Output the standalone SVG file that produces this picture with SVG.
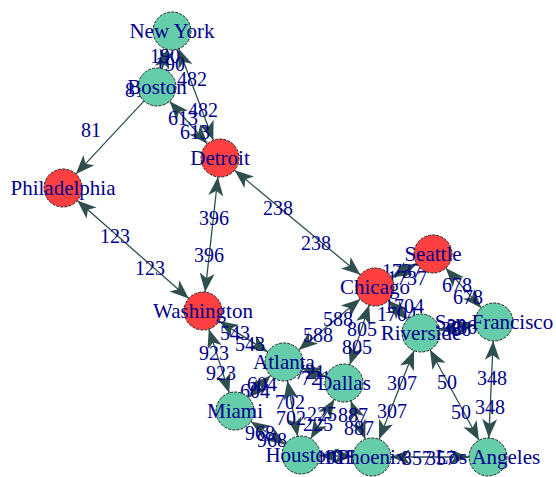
<svg xmlns="http://www.w3.org/2000/svg" width="556" height="477" viewBox="0 0 556 477">
  <style>
    .edge { stroke: #2F4F4F; stroke-width: 1.3; fill: none; }
    .both { marker-start: url(#arrow); marker-end: url(#arrow); }
    .one { marker-end: url(#arrow); }
    .elab { font-family: "Liberation Serif", "Times New Roman", serif; font-size: 20px; fill: #00008B; text-anchor: middle; }
    .vlab { font-family: "Liberation Serif", "Times New Roman", serif; font-size: 21px; fill: #00008B; text-anchor: middle; }
    .red { fill: #FF4040; }
    .green { fill: #66CDAA; }
    circle { stroke: #222; stroke-width: 1; stroke-dasharray: 3 1.2; }
  </style>
  <defs>
    <marker id="arrow" viewBox="-21 -9 22 18" refX="0" refY="0" markerWidth="22" markerHeight="18" markerUnits="userSpaceOnUse" orient="auto-start-reverse">
      <path d="M0,0 L-19,-7.5 L-14,0 L-19,7.5 Z" fill="#2F4F4F"/>
    </marker>
  </defs>
  <rect width="556" height="477" fill="#ffffff"/>

  <!-- connectors with their weight labels -->
  <g id="connectors">
    <line class="edge both" x1="167.1" y1="49.4" x2="161.9" y2="68.6"/>
    <line class="edge both" x1="178.7" y1="48.8" x2="213.3" y2="140.2"/>
    <line class="edge both" x1="169.6" y1="101.2" x2="207.4" y2="143.8"/>
    <line class="edge one" x1="144.1" y1="100.9" x2="75.9" y2="174.1"/>
    <line class="edge both" x1="77.3" y1="200.5" x2="188.7" y2="298.5"/>
    <line class="edge both" x1="217.9" y1="176.9" x2="205.1" y2="292.1"/>
    <line class="edge both" x1="234.6" y1="170.2" x2="360.4" y2="274.8"/>
    <line class="edge both" x1="391.5" y1="277.6" x2="416.5" y2="263.4"/>
    <line class="edge both" x1="388.4" y1="300.4" x2="407.6" y2="319.6"/>
    <line class="edge both" x1="360.3" y1="299.1" x2="298.7" y2="349.9"/>
    <line class="edge both" x1="369.2" y1="305.1" x2="349.8" y2="364.9"/>
    <line class="edge both" x1="219.1" y1="321.1" x2="267.9" y2="351.9"/>
    <line class="edge both" x1="208.8" y1="329.1" x2="229.2" y2="392.9"/>
    <line class="edge both" x1="270.6" y1="375.4" x2="248.4" y2="397.6"/>
    <line class="edge both" x1="301.9" y1="368.3" x2="326.1" y2="376.7"/>
    <line class="edge both" x1="287.4" y1="380.7" x2="297.6" y2="436.3"/>
    <line class="edge both" x1="250.8" y1="421.5" x2="285.2" y2="444.5"/>
    <line class="edge both" x1="334.3" y1="399.3" x2="310.7" y2="438.7"/>
    <line class="edge both" x1="350.7" y1="400.8" x2="365.3" y2="439.2"/>
    <line class="edge both" x1="414.0" y1="350.7" x2="379.0" y2="439.3"/>
    <line class="edge both" x1="430.0" y1="349.7" x2="479.0" y2="440.3"/>
    <line class="edge both" x1="493.2" y1="341.0" x2="488.8" y2="438.0"/>
    <line class="edge both" x1="445.7" y1="268.1" x2="481.3" y2="307.9"/>
    <line class="edge both" x1="439.8" y1="330.2" x2="475.2" y2="324.8"/>
    <line class="edge both" x1="320.0" y1="455.5" x2="353.0" y2="456.5"/>
    <line class="edge both" x1="391" y1="457" x2="469" y2="457"/>

    <g id="edge-labels">
      <text class="elab" x="165" y="63">190</text>
      <text class="elab" x="170" y="71">190</text>
      <text class="elab" x="192" y="86">482</text>
      <text class="elab" x="203" y="117">482</text>
      <text class="elab" x="183" y="125">613</text>
      <text class="elab" x="195" y="139">613</text>
      <text class="elab" x="91" y="137">81</text>
      <text class="elab" x="135" y="97">81</text>
      <text class="elab" x="115" y="243">123</text>
      <text class="elab" x="150" y="275">123</text>
      <text class="elab" x="214" y="225">396</text>
      <text class="elab" x="209" y="262">396</text>
      <text class="elab" x="278" y="215">238</text>
      <text class="elab" x="316" y="250">238</text>
      <text class="elab" x="402" y="278">1737</text>
      <text class="elab" x="407" y="285">1737</text>
      <text class="elab" x="404" y="313">1704</text>
      <text class="elab" x="397" y="321">1704</text>
      <text class="elab" x="338" y="326">588</text>
      <text class="elab" x="318" y="342">588</text>
      <text class="elab" x="362" y="336">805</text>
      <text class="elab" x="357" y="354">805</text>
      <text class="elab" x="235" y="340">543</text>
      <text class="elab" x="250" y="351">543</text>
      <text class="elab" x="214" y="360">923</text>
      <text class="elab" x="221" y="380">923</text>
      <text class="elab" x="262" y="391">604</text>
      <text class="elab" x="255" y="398">604</text>
      <text class="elab" x="310" y="379">721</text>
      <text class="elab" x="316" y="385">721</text>
      <text class="elab" x="290" y="409">702</text>
      <text class="elab" x="291" y="425">702</text>
      <text class="elab" x="260" y="440">968</text>
      <text class="elab" x="272" y="447">968</text>
      <text class="elab" x="322" y="421">225</text>
      <text class="elab" x="318" y="431">225</text>
      <text class="elab" x="353" y="422">887</text>
      <text class="elab" x="359" y="435">887</text>
      <text class="elab" x="402" y="390">307</text>
      <text class="elab" x="392" y="418">307</text>
      <text class="elab" x="447" y="389">50</text>
      <text class="elab" x="461" y="419">50</text>
      <text class="elab" x="492" y="385">348</text>
      <text class="elab" x="490" y="414">348</text>
      <text class="elab" x="457" y="292">678</text>
      <text class="elab" x="468" y="304">678</text>
      <text class="elab" x="456" y="336">386</text>
      <text class="elab" x="462" y="334">386</text>
      <text class="elab" x="336" y="464">1015</text>
      <text class="elab" x="343" y="464">1015</text>
      <text class="elab" x="417" y="465">357</text>
      <text class="elab" x="441" y="465">357</text>
    </g>
  </g>

  <!-- cities -->
  <g id="new-york"><circle class="green" cx="172" cy="31" r="19"/><text class="vlab" x="172" y="38">New York</text></g>
  <g id="boston"><circle class="green" cx="157" cy="87" r="19"/><text class="vlab" x="157" y="94">Boston</text></g>
  <g id="detroit"><circle class="red" cx="220" cy="158" r="19"/><text class="vlab" x="220" y="165">Detroit</text></g>
  <g id="philadelphia"><circle class="red" cx="63" cy="188" r="19"/><text class="vlab" x="63" y="195">Philadelphia</text></g>
  <g id="washington"><circle class="red" cx="203" cy="311" r="19"/><text class="vlab" x="203" y="318">Washington</text></g>
  <g id="chicago"><circle class="red" cx="375" cy="287" r="19"/><text class="vlab" x="375" y="294">Chicago</text></g>
  <g id="seattle"><circle class="red" cx="433" cy="254" r="19"/><text class="vlab" x="433" y="261">Seattle</text></g>
  <g id="riverside"><circle class="green" cx="421" cy="333" r="19"/><text class="vlab" x="421" y="340">Riverside</text></g>
  <g id="san-francisco"><circle class="green" cx="494" cy="322" r="19"/><text class="vlab" x="494" y="329">San Francisco</text></g>
  <g id="los-angeles"><circle class="green" cx="488" cy="457" r="19"/><text class="vlab" x="488" y="464">Los Angeles</text></g>
  <g id="phoenix"><circle class="green" cx="372" cy="457" r="19"/><text class="vlab" x="372" y="464">Phoenix</text></g>
  <g id="houston"><circle class="green" cx="301" cy="455" r="19"/><text class="vlab" x="301" y="462">Houston</text></g>
  <g id="dallas"><circle class="green" cx="344" cy="383" r="19"/><text class="vlab" x="344" y="390">Dallas</text></g>
  <g id="atlanta"><circle class="green" cx="284" cy="362" r="19"/><text class="vlab" x="284" y="369">Atlanta</text></g>
  <g id="miami"><circle class="green" cx="235" cy="411" r="19"/><text class="vlab" x="235" y="418">Miami</text></g>
</svg>
